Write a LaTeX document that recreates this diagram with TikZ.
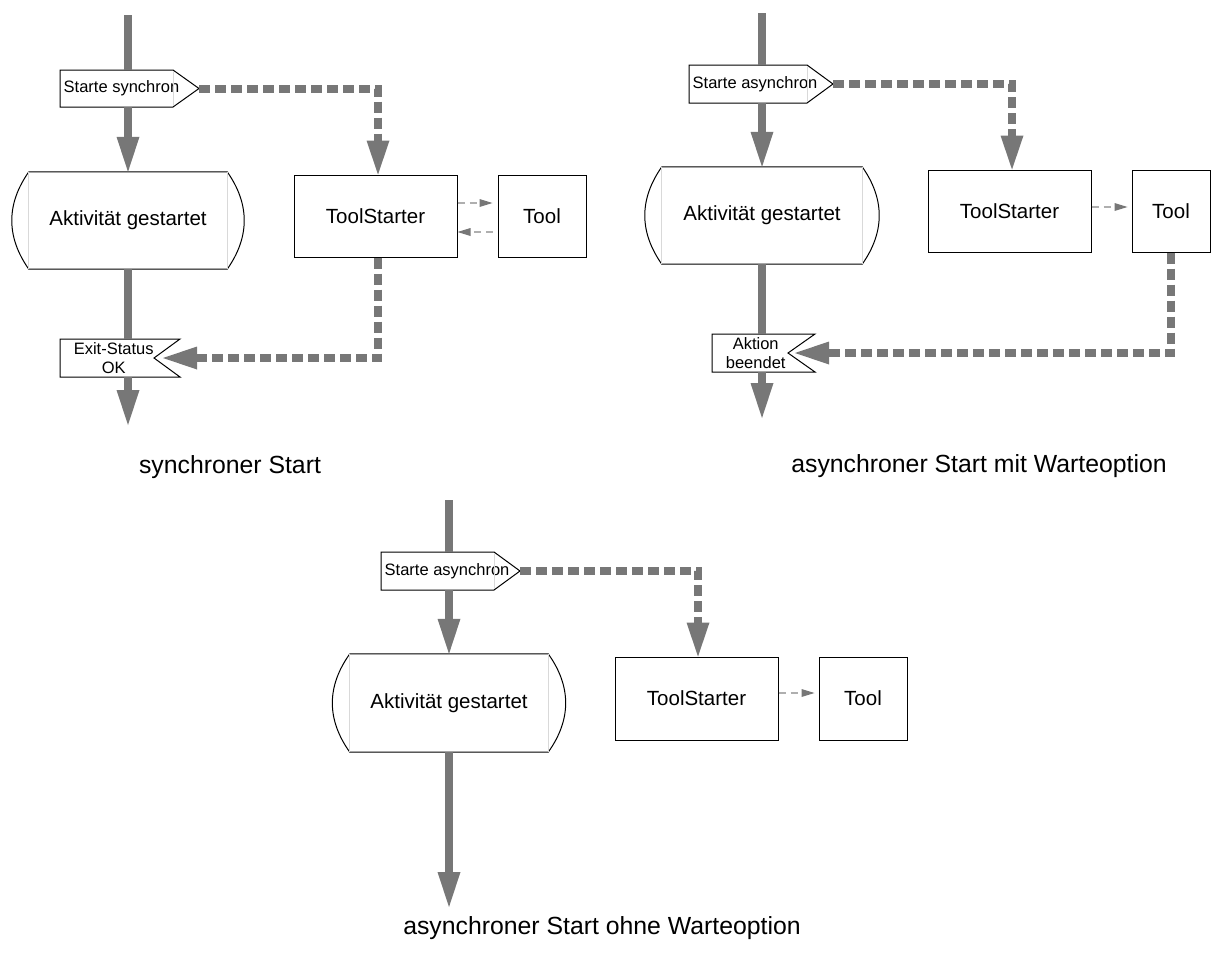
\documentclass[tikz,border=0pt]{standalone}
\usepackage{fontspec}
\setmainfont{Liberation Sans}
\usetikzlibrary{arrows.meta}
\definecolor{fg}{RGB}{119,119,119}
\definecolor{lg}{RGB}{175,175,175}
\begin{document}
\begin{tikzpicture}[x=1pt,y=-1pt,
  outline/.style={draw=black, line width=1pt, line join=miter},
  faint/.style={draw=black!15, line width=0.8pt},
  flow/.style={draw=fg, line width=8pt},
  flowarr/.style={flow, -{Triangle[width=23pt,length=35pt,line width=0pt]}},
  sig/.style={draw=fg, line width=8pt, dash pattern=on 11pt off 5pt},
  sigarr/.style={sig, -{Triangle[width=23pt,length=34pt,line width=0pt]}},
  call/.style={draw=lg, line width=1.5pt, dash pattern=on 7pt off 5pt, -{Triangle[width=8pt,length=13pt,line width=0pt,color=fg]}},
  box/.style={draw=black, line width=1pt, inner sep=0pt, font=\fontsize{20.5}{24}\selectfont},
  lbl/.style={inner sep=0pt, font=\fontsize{16.5}{19}\selectfont, align=center},
  act/.style={inner sep=0pt, font=\fontsize{20.5}{24}\selectfont},
  title/.style={font=\fontsize{24.8}{29}\selectfont}]
\useasboundingbox (0,0) rectangle (1212,969);

% ================= Panel 1: synchroner Start =================
\coordinate (m1) at (128,15);
\coordinate (end1) at (128,425);
\node[lbl, anchor=north west, inner xsep=3.5pt, minimum height=37pt] (s1) at (60,70) {Starte synchron};
\draw[outline] (s1.north west) -- ++(113,0) -- ++(26,18.5) -- ++(-26,18.5) -- ++(-113,0) -- cycle;
\draw[faint] ([shift={(113,0.8)}]s1.north west) -- ++(0,35.4);
\coordinate (s1tip) at ([shift={(139,18.5)}]s1.north west);

\node[act, minimum width=198pt, minimum height=97pt] (a1) at (128,220.5) {Aktivität gestartet};
\draw[outline] (a1.north west) -- (a1.north east) .. controls +(22.7,32.3) and +(22.7,-32.3) .. (a1.south east)
  -- (a1.south west) .. controls +(-22.7,-32.3) and +(-22.7,32.3) .. (a1.north west);
\draw[faint] (a1.north west) -- (a1.south west);
\draw[faint] (a1.north east) -- (a1.south east);

\node[lbl, anchor=north west, minimum height=38pt, text width=107pt] (e1) at (60,339) {Exit-Status\\OK};
\draw[outline] (e1.north west) -- ++(120,0) -- ++(-26,19) -- ++(26,19) -- ++(-120,0) -- cycle;
\coordinate (e1end) at ([shift={(103,19)}]e1.north west);

\node[box, minimum width=163pt, minimum height=82pt] (t1) at (375.5,216) {ToolStarter};
\node[box, minimum width=88pt, minimum height=82pt] (o1) at (542,216) {Tool};

\draw[flow] (m1) -- (m1 |- s1.north);
\draw[flowarr] (m1 |- s1.south) -- (m1 |- a1.north);
\draw[flow] (m1 |- a1.south) -- (m1 |- e1.north);
\draw[flowarr] (m1 |- e1.south) -- (end1);
\draw[sigarr] (s1tip) -| ([xshift=2.5pt]t1.north);
\draw[sigarr] ([xshift=2.5pt]t1.south) |- (e1end);
\draw[call, shorten >=5pt] ([yshift=13pt]t1.east) -- ([yshift=13pt]o1.west);
\draw[call, shorten <=5pt] ([yshift=-16pt]o1.west) -- ([yshift=-16pt]t1.east);

\node[title] (title1) at (230,467) {synchroner Start};

% ================= Panel 2: asynchroner Start mit Warteoption =================
\coordinate (m2) at (762,13);
\coordinate (end2) at (762,418);
\node[lbl, anchor=north west, inner xsep=3.5pt, minimum height=38pt] (s2) at (689,65) {Starte asynchron};
\draw[outline] (s2.north west) -- ++(118,0) -- ++(26,19) -- ++(-26,19) -- ++(-118,0) -- cycle;
\draw[faint] ([shift={(118,0.8)}]s2.north west) -- ++(0,36.4);
\coordinate (s2tip) at ([shift={(144,19)}]s2.north west);

\node[act, minimum width=200pt, minimum height=97pt] (a2) at (762,215.5) {Aktivität gestartet};
\draw[outline] (a2.north west) -- (a2.north east) .. controls +(22.7,32.3) and +(22.7,-32.3) .. (a2.south east)
  -- (a2.south west) .. controls +(-22.7,-32.3) and +(-22.7,32.3) .. (a2.north west);
\draw[faint] (a2.north west) -- (a2.south west);
\draw[faint] (a2.north east) -- (a2.south east);

\node[lbl, anchor=north west, minimum height=38pt, text width=87pt] (e2) at (712,334) {Aktion\\beendet};
\draw[outline] (e2.north west) -- ++(103,0) -- ++(-27,19) -- ++(27,19) -- ++(-103,0) -- cycle;
\coordinate (e2end) at ([shift={(83,19)}]e2.north west);

\node[box, minimum width=163pt, minimum height=82pt] (t2) at (1009.5,211) {ToolStarter};
\node[box, minimum width=78pt, minimum height=82pt] (o2) at (1171,211) {Tool};

\draw[flow] (m2) -- (m2 |- s2.north);
\draw[flowarr] (m2 |- s2.south) -- (m2 |- a2.north);
\draw[flow] (m2 |- a2.south) -- (m2 |- e2.north);
\draw[flowarr] (m2 |- e2.south) -- (end2);
\draw[sigarr] (s2tip) -| ([xshift=2.5pt]t2.north);
\draw[sigarr] (o2.south) |- (e2end);
\draw[call, shorten >=4pt] ([yshift=4pt]t2.east) -- ([yshift=4pt]o2.west);

\node[title] (title2) at (979,466) {asynchroner Start mit Warteoption};

% ================= Panel 3: asynchroner Start ohne Warteoption =================
\coordinate (m3) at (449,500);
\coordinate (end3) at (449,907);
\node[lbl, anchor=north west, inner xsep=3.5pt, minimum height=38pt] (s3) at (381,552) {Starte asynchron};
\draw[outline] (s3.north west) -- ++(113,0) -- ++(26,19) -- ++(-26,19) -- ++(-113,0) -- cycle;
\draw[faint] ([shift={(113,0.8)}]s3.north west) -- ++(0,36.4);
\coordinate (s3tip) at ([shift={(139,19)}]s3.north west);

\node[act, minimum width=198pt, minimum height=98pt] (a3) at (449,703) {Aktivität gestartet};
\draw[outline] (a3.north west) -- (a3.north east) .. controls +(23.3,32.7) and +(23.3,-32.7) .. (a3.south east)
  -- (a3.south west) .. controls +(-23.3,-32.7) and +(-23.3,32.7) .. (a3.north west);
\draw[faint] (a3.north west) -- (a3.south west);
\draw[faint] (a3.north east) -- (a3.south east);

\node[box, minimum width=163pt, minimum height=83pt] (t3) at (696.5,698.5) {ToolStarter};
\node[box, minimum width=88pt, minimum height=83pt] (o3) at (863,698.5) {Tool};

\draw[flow] (m3) -- (m3 |- s3.north);
\draw[flowarr] (m3 |- s3.south) -- (m3 |- a3.north);
\draw[flowarr] (m3 |- a3.south) -- (end3);
\draw[sigarr] (s3tip) -| ([xshift=1.5pt]t3.north);
\draw[call, shorten >=4pt] ([yshift=5.5pt]t3.east) -- ([yshift=5.5pt]o3.west);

\node[title] (title3) at (602,928) {asynchroner Start ohne Warteoption};
\end{tikzpicture}
\end{document}
